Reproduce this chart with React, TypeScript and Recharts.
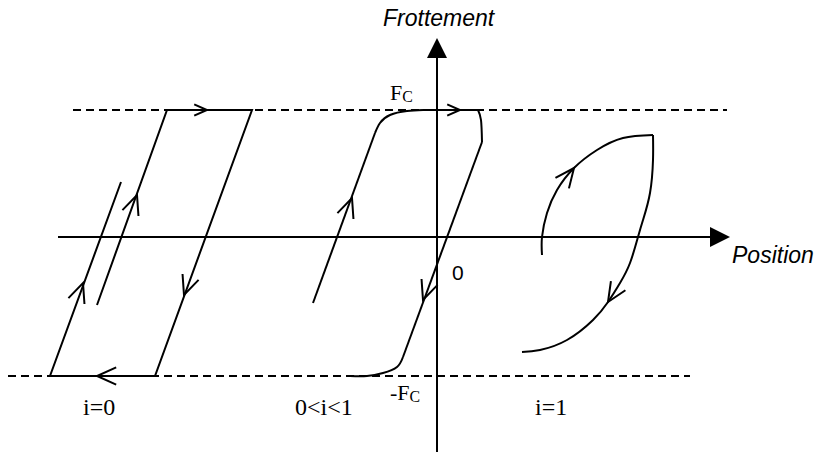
import { ComposedChart, Line, Scatter, XAxis, YAxis } from "recharts"

// x: position, y: friction (10 px per unit on both axes)
const xDomain = [-43.7, 37.9]
const yDomain = [-21.8, 23.7]

const fcUpper = 12.7
const fcLower = -13.9

const upperLevel = [{ x: -36.4, y: fcUpper }, { x: 29.0, y: fcUpper }]
const lowerLevel = [{ x: -42.9, y: fcLower }, { x: 25.3, y: fcLower }]

const positionAxis = [{ x: -37.9, y: 0 }, { x: 27.5, y: 0 }]
const frictionAxis = [{ x: 0, y: -21.5 }, { x: 0, y: 18.0 }]
const axisHeads = [
  { x: 29.3, y: 0, dir: 0 },
  { x: 0, y: 19.9, dir: -90 },
]

// i = 0 : pure elastic / Coulomb loop
const loopZero = [
  { x: -34.0, y: -6.8 },
  { x: -27.0, y: 12.7 },
  { x: -18.5, y: 12.7 },
  { x: -28.2, y: -13.9 },
  { x: -38.7, y: -13.9 },
  { x: -31.6, y: 5.5 },
]

// 0 < i < 1
const midRise = [{ x: -12.4, y: -6.6 }, { x: -6.2, y: 10.4 }]
const midTopBend = [
  { x: -6.2, y: 10.4 },
  { x: -5.7, y: 11.4 },
  { x: -4.7, y: 12.2 },
  { x: -3.0, y: 12.6 },
  { x: -1.4, y: 12.7 },
]
const midTop = [{ x: -1.4, y: 12.7 }, { x: 4.1, y: 12.7 }]
const midRightBend = [
  { x: 4.1, y: 12.7 },
  { x: 4.4, y: 11.7 },
  { x: 4.5, y: 9.5 },
]
const midFall = [{ x: 4.5, y: 9.5 }, { x: -3.4, y: -12.0 }]
const midBottomBend = [
  { x: -3.4, y: -12.0 },
  { x: -4.0, y: -13.0 },
  { x: -5.4, y: -13.6 },
  { x: -7.0, y: -13.9 },
  { x: -8.7, y: -13.9 },
]

// i = 1
const leafUp = [
  { x: 10.5, y: -1.8 },
  { x: 10.5, y: 0.0 },
  { x: 11.0, y: 2.4 },
  { x: 12.0, y: 4.7 },
  { x: 13.7, y: 6.9 },
  { x: 16.0, y: 8.7 },
  { x: 18.6, y: 9.9 },
  { x: 21.6, y: 10.2 },
]
const leafDown = [
  { x: 21.6, y: 10.2 },
  { x: 21.6, y: 7.7 },
  { x: 21.3, y: 4.4 },
  { x: 20.6, y: 1.7 },
  { x: 20.1, y: 0.0 },
  { x: 19.3, y: -2.6 },
  { x: 18.3, y: -4.6 },
  { x: 17.1, y: -6.5 },
  { x: 15.6, y: -8.3 },
  { x: 13.0, y: -10.3 },
  { x: 10.3, y: -11.3 },
  { x: 8.5, y: -11.5 },
]

// arrow tips, dir = travel direction in screen degrees
const arrowsLarge = [
  { x: -35.4, y: -4.6, dir: -70 },
  { x: -30.0, y: 4.2, dir: -70 },
  { x: -25.3, y: -5.8, dir: 110 },
  { x: -34.0, y: -13.9, dir: 180 },
  { x: -8.5, y: 3.9, dir: -70 },
  { x: -1.4, y: -6.3, dir: 110 },
  { x: 13.7, y: 6.9, dir: -52 },
  { x: 17.1, y: -6.5, dir: 122 },
]
const arrowsSmall = [
  { x: -23.0, y: 12.7, dir: 0 },
  { x: 2.3, y: 12.7, dir: 0 },
]

const axisTitles = [
  { x: -5.4, y: 21.1, text: "Frottement" },
  { x: 29.5, y: -2.6, text: "Position" },
]
const originLabel = [{ x: 1.5, y: -4.3, text: "0" }]
const levelLabels = [
  { x: -4.7, y: 13.7, text: "F", sub: "C" },
  { x: -4.7, y: -16.3, text: "-F", sub: "C" },
]
const caseLabels = [
  { x: -35.4, y: -17.8, text: "i=0" },
  { x: -14.2, y: -17.8, text: "0<i<1" },
  { x: 9.8, y: -17.8, text: "i=1" },
]

const INK = "#000"
const SANS = "'Liberation Sans', Arial, sans-serif"
const SERIF = "'Liberation Serif', 'Times New Roman', serif"

const vArrow = (size: number) => (props: any) => {
  const { cx, cy, payload } = props
  const a = (payload.dir * Math.PI) / 180
  const s = (24 * Math.PI) / 180
  const x1 = cx - size * Math.cos(a - s)
  const y1 = cy - size * Math.sin(a - s)
  const x2 = cx - size * Math.cos(a + s)
  const y2 = cy - size * Math.sin(a + s)
  return (
    <path
      d={`M${x1},${y1}L${cx},${cy}L${x2},${y2}`}
      fill="none"
      stroke={INK}
      strokeWidth={2}
    />
  )
}

const triangle = (props: any) => {
  const { cx, cy, payload } = props
  const a = (payload.dir * Math.PI) / 180
  const bx = cx - 20 * Math.cos(a)
  const by = cy - 20 * Math.sin(a)
  const px = -Math.sin(a) * 10
  const py = Math.cos(a) * 10
  return <polygon points={`${cx},${cy} ${bx + px},${by + py} ${bx - px},${by - py}`} fill={INK} />
}

const textShape = (family: string, size: number, italic: boolean) => (props: any) => {
  const { cx, cy, payload } = props
  return (
    <text x={cx} y={cy} fontFamily={family} fontSize={size} fontStyle={italic ? "italic" : "normal"} fill={INK}>
      {payload.text}
      {payload.sub ? (
        <tspan fontSize={size * 0.72} dy={2}>
          {payload.sub}
        </tspan>
      ) : null}
    </text>
  )
}

const solid = { stroke: INK, strokeWidth: 2, dot: false, activeDot: false, isAnimationActive: false } as const

export default function App() {
  return (
    <div>
      <style>{"body{margin:0}"}</style>
      <ComposedChart width={816} height={455} margin={{ top: 0, right: 0, bottom: 0, left: 0 }}>
        <XAxis type="number" dataKey="x" domain={xDomain} allowDataOverflow hide />
        <YAxis type="number" dataKey="y" domain={yDomain} allowDataOverflow hide />

        <Line data={upperLevel} dataKey="y" type="linear" {...solid} strokeDasharray="8 5" />
        <Line data={lowerLevel} dataKey="y" type="linear" {...solid} strokeDasharray="8 5" />
        <Line data={positionAxis} dataKey="y" type="linear" {...solid} />
        <Line data={frictionAxis} dataKey="y" type="linear" {...solid} />

        <Line data={loopZero} dataKey="y" type="linear" {...solid} />

        <Line data={midRise} dataKey="y" type="linear" {...solid} />
        <Line data={midTopBend} dataKey="y" type="natural" {...solid} />
        <Line data={midTop} dataKey="y" type="linear" {...solid} />
        <Line data={midRightBend} dataKey="y" type="natural" {...solid} />
        <Line data={midFall} dataKey="y" type="linear" {...solid} />
        <Line data={midBottomBend} dataKey="y" type="natural" {...solid} />

        <Line data={leafUp} dataKey="y" type="natural" {...solid} />
        <Line data={leafDown} dataKey="y" type="natural" {...solid} />

        <Scatter data={axisHeads} dataKey="y" shape={triangle} isAnimationActive={false} />
        <Scatter data={arrowsLarge} dataKey="y" shape={vArrow(21)} isAnimationActive={false} />
        <Scatter data={arrowsSmall} dataKey="y" shape={vArrow(14)} isAnimationActive={false} />

        <Scatter data={axisTitles} dataKey="y" shape={textShape(SANS, 23, true)} isAnimationActive={false} />
        <Scatter data={originLabel} dataKey="y" shape={textShape(SANS, 21, false)} isAnimationActive={false} />
        <Scatter data={levelLabels} dataKey="y" shape={textShape(SERIF, 22, false)} isAnimationActive={false} />
        <Scatter data={caseLabels} dataKey="y" shape={textShape(SERIF, 24, false)} isAnimationActive={false} />
      </ComposedChart>
    </div>
  )
}
